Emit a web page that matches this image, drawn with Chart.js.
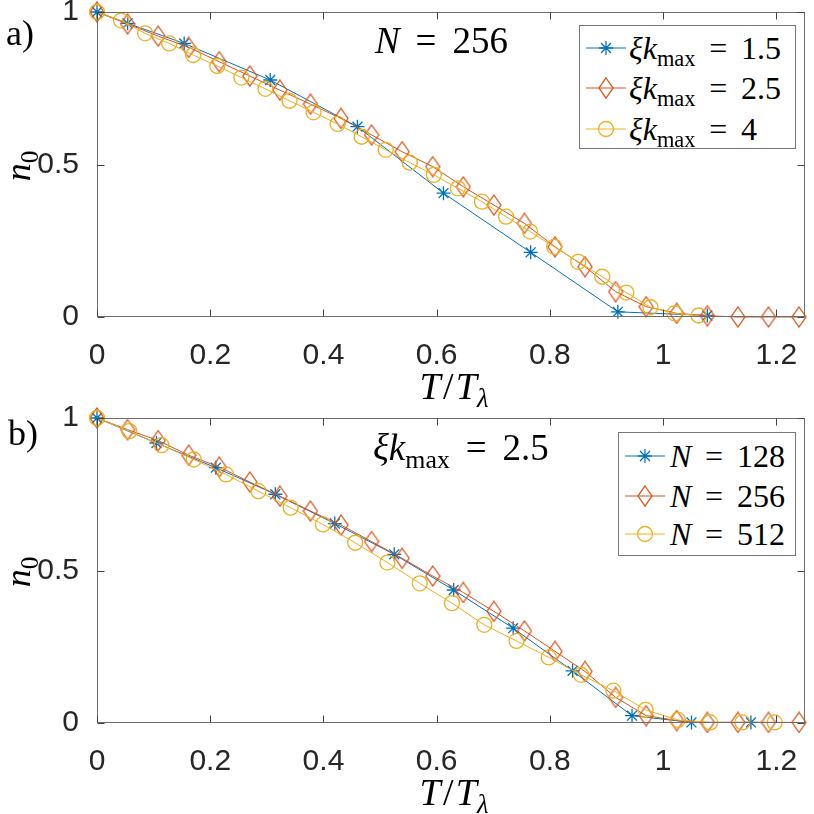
<!DOCTYPE html>
<html>
<head>
<meta charset="utf-8">
<script src="https://cdn.jsdelivr.net/npm/chart.js@4.4.1/dist/chart.umd.min.js"></script>
<style>
  html,body{margin:0;padding:0;background:#fff;}
  #wrap{position:relative;width:814px;height:814px;overflow:hidden;background:#fff;}
  .panel{position:absolute;left:0;width:814px;height:407px;}
  .math{position:absolute;font-family:"Liberation Serif","DejaVu Serif",serif;color:#000;white-space:nowrap;line-height:1;}
  .math i{font-style:italic;}
  .math sub{font-size:0.7em;vertical-align:baseline;position:relative;top:0.3em;font-style:normal;}
  .math .eq{margin:0 0.18em;}
  .legend{position:absolute;background:#fff;border:1px solid #777;box-sizing:border-box;}
  .row{position:absolute;left:0;height:40px;}
  .row svg{position:absolute;left:0;top:0;}
  .row .math{top:4px;font-size:32px;}
</style>
</head>
<body>
<div id="wrap">
  <div class="panel" style="top:0"><canvas id="c1"></canvas></div>
  <div class="panel" style="top:406px"><canvas id="c2"></canvas></div>
</div>
<script>
// ---------- data ----------
const xTickVals = [0, 0.2, 0.4, 0.6, 0.8, 1, 1.2];
const yTickVals = [0, 0.5, 1];

// panel a) N = 256
const aT_k15 = [0, 0.054, 0.154, 0.306, 0.46, 0.612, 0.766, 0.92, 1.078];
const aN_k15 = [1, 0.963, 0.897, 0.777, 0.624, 0.406, 0.212, 0.017, 0.005];
const aT_k25 = [0, 0.054, 0.108, 0.162, 0.216, 0.27, 0.323, 0.377, 0.431, 0.485, 0.539, 0.593, 0.647, 0.701, 0.755, 0.809, 0.862, 0.916, 0.970, 1.024, 1.078, 1.132, 1.186, 1.240];
const aN_k25 = [1, 0.961, 0.921, 0.884, 0.837, 0.790, 0.744, 0.698, 0.651, 0.597, 0.542, 0.493, 0.427, 0.367, 0.307, 0.230, 0.165, 0.083, 0.034, 0.012, 0.004, 0, 0, 0];
const aT_k4 = [0, 0.0425, 0.085, 0.1275, 0.17, 0.2125, 0.255, 0.2975, 0.34, 0.3825, 0.425, 0.4675, 0.51, 0.5525, 0.595, 0.6375, 0.68, 0.7225, 0.765, 0.8075, 0.85, 0.8925, 0.935, 0.9775, 1.02, 1.0625];
const aN_k4 = [1, 0.972, 0.930, 0.897, 0.859, 0.823, 0.785, 0.748, 0.709, 0.671, 0.633, 0.591, 0.548, 0.506, 0.466, 0.422, 0.378, 0.329, 0.280, 0.230, 0.181, 0.132, 0.080, 0.032, 0.012, 0.005];

// panel b) xi k_max = 2.5
const bT_N128 = [0, 0.105, 0.21, 0.315, 0.42, 0.525, 0.63, 0.735, 0.84, 0.945, 1.05, 1.155];
const bN_N128 = [1, 0.918, 0.837, 0.750, 0.654, 0.553, 0.436, 0.311, 0.171, 0.024, 0.002, 0.002];
const bT_N256 = [0, 0.054, 0.108, 0.162, 0.216, 0.27, 0.323, 0.377, 0.431, 0.485, 0.539, 0.593, 0.647, 0.701, 0.755, 0.809, 0.862, 0.916, 0.970, 1.024, 1.078, 1.132, 1.186, 1.240];
const bN_N256 = [1, 0.962, 0.926, 0.878, 0.839, 0.790, 0.744, 0.695, 0.649, 0.595, 0.540, 0.482, 0.428, 0.366, 0.302, 0.235, 0.169, 0.084, 0.024, 0.008, 0.002, 0.002, 0.002, 0.002];
const bT_N512 = [0, 0.057, 0.114, 0.171, 0.228, 0.285, 0.342, 0.399, 0.456, 0.513, 0.57, 0.627, 0.684, 0.741, 0.798, 0.855, 0.912, 0.969, 1.026, 1.083, 1.14, 1.197];
const bN_N512 = [1, 0.957, 0.911, 0.864, 0.815, 0.760, 0.706, 0.651, 0.591, 0.526, 0.458, 0.393, 0.322, 0.269, 0.215, 0.158, 0.106, 0.043, 0.010, 0.002, 0.002, 0.002];

const legendA = ['1.5', '2.5', '4'];
const legendB = ['128', '256', '512'];

// ---------- styles ----------
const C_BLUE = '#0072BD', C_ORANGE = '#D95319', C_YELLOW = '#EDB120';
const AXIS = '#262626';
const FRAME = '#6e6e6e';

function diamondMarker(color){
  const c = document.createElement('canvas');
  c.width = 16; c.height = 22;
  const g = c.getContext('2d');
  g.strokeStyle = color; g.lineWidth = 1.3;
  g.beginPath();
  g.moveTo(8, 1); g.lineTo(15, 11); g.lineTo(8, 21); g.lineTo(1, 11); g.closePath();
  g.stroke();
  return c;
}

function pts(xs, ys){ return xs.map((x, i) => ({x: x, y: ys[i]})); }

function ds(label, xs, ys, color, style, order){
  const d = {
    label: label, data: pts(xs, ys), borderColor: color, backgroundColor: 'rgba(0,0,0,0)',
    borderWidth: 1, pointBorderColor: color, pointBackgroundColor: 'rgba(0,0,0,0)',
    pointBorderWidth: 1.3, tension: 0, clip: false, order: order
  };
  if (style === 'diamond') { d.pointStyle = diamondMarker(color); d.pointRadius = 8; }
  else if (style === 'star') { d.pointStyle = 'star'; d.pointRadius = 7; }
  else { d.pointStyle = 'circle'; d.pointRadius = 7.5; }
  return d;
}

const frameTicks = {
  id: 'frameTicks',
  afterDraw(chart){
    const {ctx, chartArea: a, scales: {x, y}} = chart;
    const L = Math.round(a.left) + 0.5, R = Math.round(a.right) - 0.5, T = Math.round(a.top) + 0.5, B = Math.round(a.bottom) - 0.5;
    ctx.save();
    ctx.lineWidth = 1;
    ctx.strokeStyle = FRAME;
    ctx.strokeRect(L, T, R - L, B - T);
    ctx.strokeStyle = '#444';
    ctx.beginPath();
    xTickVals.forEach(v => {
      const p = Math.round(x.getPixelForValue(v)) + 0.5;
      ctx.moveTo(p, B); ctx.lineTo(p, B - 7);
      ctx.moveTo(p, T); ctx.lineTo(p, T + 7);
    });
    yTickVals.forEach(v => {
      const p = Math.round(y.getPixelForValue(v)) + 0.5;
      ctx.moveTo(L, p); ctx.lineTo(L + 7, p);
      ctx.moveTo(R, p); ctx.lineTo(R - 7, p);
    });
    ctx.stroke();
    ctx.restore();
  }
};

function makeChart(id, datasets){
  const tickFont = {family: '"Liberation Sans", Arial, sans-serif', size: 30};
  return new Chart(document.getElementById(id), {
    type: 'line',
    data: {datasets: datasets},
    options: {
      responsive: true, maintainAspectRatio: false, animation: false,
      layout: {padding: {left: 0, right: 3, top: 12, bottom: 0}},
      plugins: {legend: {display: false}, tooltip: {enabled: false}},
      scales: {
        x: {
          type: 'linear', min: 0, max: 1.25,
          afterBuildTicks: s => { s.ticks = xTickVals.map(v => ({value: v})); },
          afterFit: s => { s.height = 90; s.paddingLeft = 0; s.paddingRight = 0; },
          ticks: {font: tickFont, color: AXIS, padding: 13, maxRotation: 0, autoSkip: false, callback: v => String(v)},
          grid: {display: false}, border: {display: false}
        },
        y: {
          type: 'linear', min: 0, max: 1,
          afterBuildTicks: s => { s.ticks = yTickVals.map(v => ({value: v})); },
          afterFit: s => { s.width = 97; s.paddingTop = 0; s.paddingBottom = 0; },
          ticks: {font: tickFont, color: AXIS, padding: 10, autoSkip: false, callback: v => String(v)},
          grid: {display: false}, border: {display: false}
        }
      }
    },
    plugins: [frameTicks]
  });
}

makeChart('c1', [
  ds('ξk_max = 1.5', aT_k15, aN_k15, C_BLUE, 'star', 2),
  ds('ξk_max = 2.5', aT_k25, aN_k25, C_ORANGE, 'diamond', 1),
  ds('ξk_max = 4', aT_k4, aN_k4, C_YELLOW, 'circle', 0)
]);
makeChart('c2', [
  ds('N = 128', bT_N128, bN_N128, C_BLUE, 'star', 2),
  ds('N = 256', bT_N256, bN_N256, C_ORANGE, 'diamond', 1),
  ds('N = 512', bT_N512, bN_N512, C_YELLOW, 'circle', 0)
]);

// ---------- HTML text / legends ----------
const wrap = document.getElementById('wrap');
function addDiv(html, css){
  const d = document.createElement('div');
  d.className = 'math';
  d.innerHTML = html;
  Object.assign(d.style, css);
  wrap.appendChild(d);
  return d;
}
const EQ = '<span class="eq">=</span>';
// panel labels
addDiv('a)', {left: '6px', top: '15px', fontSize: '36px'});
addDiv('b)', {left: '8px', top: '415px', fontSize: '36px'});
// axis titles
[0, 406].forEach(off => {
  addDiv('<i>T</i><span style="margin:0 0.06em">/</span><i>T</i><sub><i>λ</i></sub>', {left: '454px', top: (367 + off) + 'px', fontSize: '38px', transform: 'translateX(-50%)'});
  addDiv('<i>n</i><sub>0</sub>', {left: '18px', top: (166 + off) + 'px', fontSize: '36px', transform: 'translate(-50%,-50%) rotate(-90deg)'});
});
// annotations
addDiv('<i>N</i> ' + EQ + ' 256', {left: '375px', top: '22px', fontSize: '37px'});
addDiv('<i>ξk</i><sub>max</sub> ' + EQ + ' 2.5', {left: '373px', top: '429px', fontSize: '37px'});

function markerSVG(style, color){
  let m;
  if (style === 'star') {
    m = `<path d="M26 13 V27 M19 20 H33 M21 15 L31 25 M31 15 L21 25" stroke="${color}" stroke-width="1.3" fill="none"/>`;
  } else if (style === 'diamond') {
    m = `<path d="M26 10 L33 20 L26 30 L19 20 Z" stroke="${color}" stroke-width="1.3" fill="none"/>`;
  } else {
    m = `<circle cx="26" cy="20" r="7.5" stroke="${color}" stroke-width="1.3" fill="none"/>`;
  }
  return `<svg width="50" height="40"><line x1="6" y1="20" x2="46" y2="20" stroke="${color}" stroke-width="1"/>${m}</svg>`;
}
function legend(left, top, w, h, rows, textLeft, labels){
  const box = document.createElement('div');
  box.className = 'legend';
  Object.assign(box.style, {left: left + 'px', top: top + 'px', width: w + 'px', height: h + 'px'});
  rows.forEach((r, i) => {
    const row = document.createElement('div');
    row.className = 'row';
    row.style.top = (r.cy - 20) + 'px';
    row.style.width = w + 'px';
    row.innerHTML = markerSVG(r.style, r.color) + `<div class="math" style="left:${textLeft}px">${labels[i]}</div>`;
    box.appendChild(row);
  });
  wrap.appendChild(box);
}
const styles = [{style: 'star', color: C_BLUE}, {style: 'diamond', color: C_ORANGE}, {style: 'circle', color: C_YELLOW}];
legend(579, 25, 217, 124,
  [{cy: 22, ...styles[0]}, {cy: 62, ...styles[1]}, {cy: 103, ...styles[2]}], 49,
  legendA.map(v => `<i>ξk</i><sub>max</sub> ${EQ} ${v}`));
legend(618, 432, 178, 124,
  [{cy: 23, ...styles[0]}, {cy: 63, ...styles[1]}, {cy: 101, ...styles[2]}], 51,
  legendB.map(v => `<i>N</i> ${EQ} ${v}`));
</script>
</body>
</html>
